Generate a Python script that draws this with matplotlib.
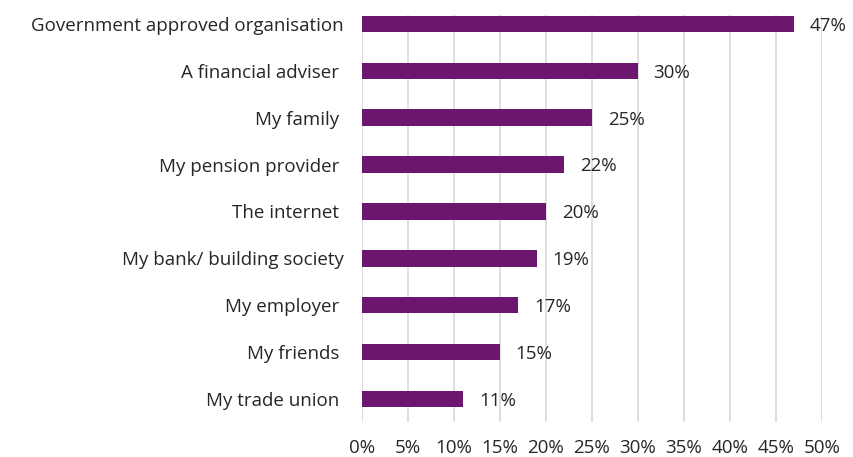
import numpy as np
import matplotlib
matplotlib.use('Agg')
import matplotlib.pyplot as plt

plt.rcParams['font.family'] = ['Open Sans', 'DejaVu Sans']

# Sources of guidance, top to bottom
categories = ["Government approved organisation", "A financial adviser ", "My family ",
              "My pension provider ", "The internet ", "My bank/ building society",
              "My employer ", "My friends ", "My trade union "]
values = [47, 30, 25, 22, 20, 19, 17, 15, 11]
xticks = [0, 5, 10, 15, 20, 25, 30, 35, 40, 45, 50]

bar_colour = '#6B1770'
text_colour = '#262626'

fig = plt.figure(figsize=(8.54, 4.57), dpi=100)
ax = fig.add_axes([0.4239, 0.0766, 0.5386, 0.8906])

y = np.arange(len(categories))
ax.barh(y, values, height=0.35, color=bar_colour, zorder=3)

for yi, v in zip(y, values):
    ax.text(v + 1.7, yi + 0.04, f"{v}%", va='center', ha='left', fontsize=13.5, color=text_colour)

ax.set_xlim(0, 50)
ax.set_ylim(8.49, -0.19)
ax.set_xticks(xticks)
ax.set_xticklabels([f"{t}%" for t in xticks])
ax.set_yticks(y)
ax.set_yticklabels(categories)

ax.grid(axis='x', color='#D9D9D9', linewidth=1.2, zorder=0)
ax.tick_params(axis='both', length=0, labelsize=13.5, colors=text_colour)
ax.tick_params(axis='x', pad=12)
ax.tick_params(axis='y', pad=13)
for s in ax.spines.values():
    s.set_visible(False)

fig.savefig('out.png', dpi=100)
